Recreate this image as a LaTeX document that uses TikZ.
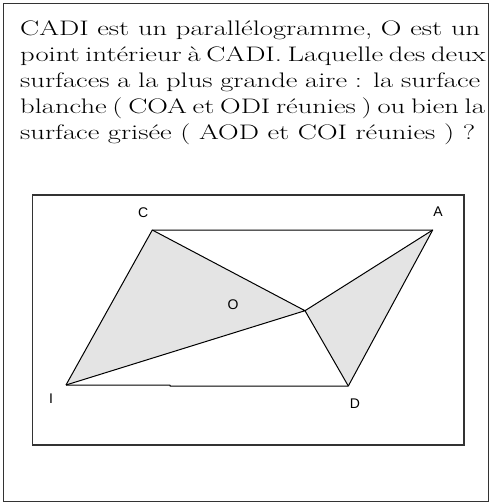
\documentclass[tikz,border=0pt]{standalone}
\usepackage{fontspec}
\usepackage{graphicx}
\newfontfamily\labelfont{Liberation Sans}
\definecolor{greyfill}{HTML}{E4E4E4}
\newlength\lastw
\tikzset{
  frame/.style={draw=black!80, line width=1.4pt},
  inner frame/.style={draw=black!80, line width=1.1pt},
  edge/.style={draw=black, line width=1pt, line join=round},
  lbl/.style={font=\labelfont\fontsize{14}{14}\selectfont, inner sep=0pt},
  qline/.style={anchor=base west, inner sep=0pt, font=\fontsize{21}{26}\selectfont}
}
\newcommand\qtxt[1]{\scalebox{\fx}[1]{\hbox to \innerw{#1}}}
\begin{document}
\settowidth\lastw{\fontsize{21}{26}\selectfont surface grisée ( AOD et COI réunies ) ?}%
\pgfmathsetmacro\fx{455/\lastw}%
\pgfmathsetlengthmacro\innerw{460pt/\fx}%
\begin{tikzpicture}[x=1pt,y=-1pt]
\useasboundingbox (0,0) rectangle (493,503);
\draw[frame] (3.5,3.5) rectangle (488.5,501.5);
\node[qline] (l1) at (20,36) {\qtxt{CADI est un parallélogramme, O est un}};
\node[qline] (l2) at (20,61.7) {\qtxt{point intérieur à CADI. Laquelle des deux}};
\node[qline] (l3) at (20,87.7) {\qtxt{surfaces a la plus grande aire : la surface}};
\node[qline] (l4) at (20,113.3) {\qtxt{blanche ( COA et ODI réunies ) ou bien la}};
\node[qline] (l5) at (20,139.3) {\scalebox{\fx}[1]{surface grisée ( AOD et COI réunies ) ?}};
\draw[inner frame] (32.7,195) rectangle (464,445);
\coordinate (C) at (152.3,230);
\coordinate (A) at (432.7,230);
\coordinate (O) at (305,310.7);
\coordinate (I) at (66,385);
\coordinate (D) at (348.3,386);
\coordinate (s1) at (170,385);
\coordinate (s2) at (170,386);
\fill[greyfill] (C) -- (O) -- (I) -- cycle;
\fill[greyfill] (A) -- (O) -- (D) -- cycle;
\draw[edge] (I) -- (C) -- (A) -- (D) -- (s2) -- (s1) -- (I);
\draw[edge] (C) -- (O) -- (I);
\draw[edge] (A) -- (O) -- (D);
\node[lbl] (lC) at (143.3,212.8) {C};
\node[lbl] (lA) at (438,212) {A};
\node[lbl] (lO) at (233,305) {O};
\node[lbl] (lI) at (51,398.7) {I};
\node[lbl] (lD) at (355,404) {D};
\end{tikzpicture}
\end{document}
